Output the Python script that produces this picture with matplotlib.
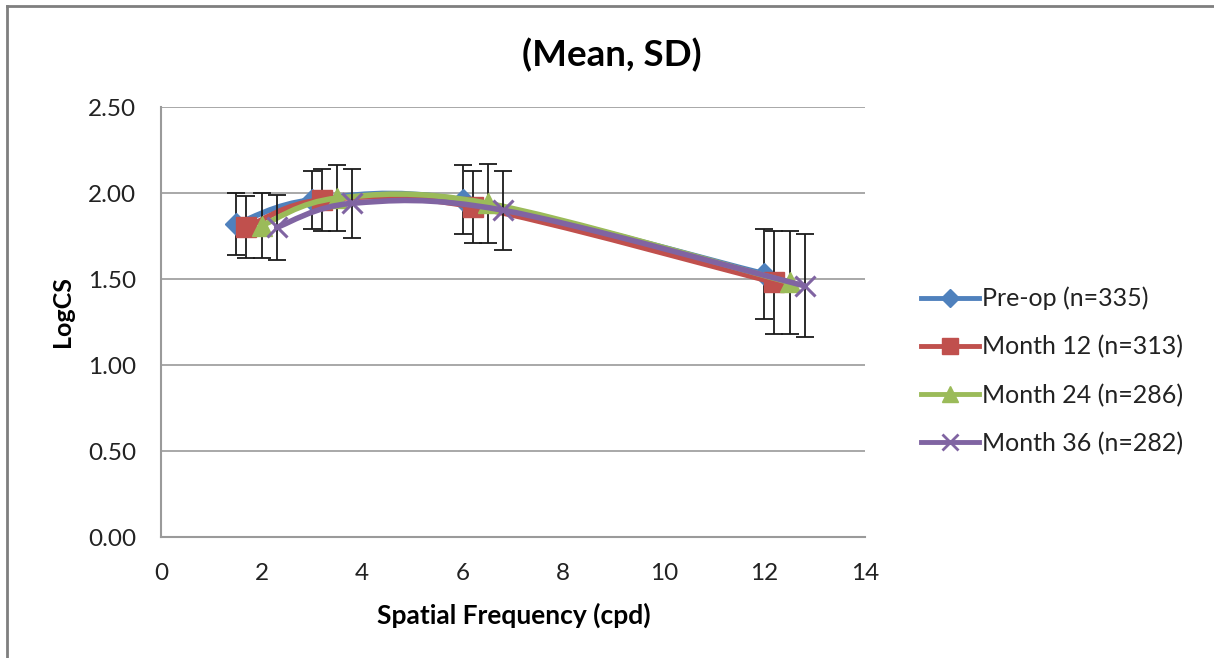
import matplotlib
matplotlib.use("Agg")
import matplotlib.pyplot as plt
import numpy as np
from matplotlib.path import Path
from matplotlib.patches import PathPatch
from matplotlib.lines import Line2D

plt.rcParams['font.family'] = ['Lato', 'DejaVu Sans']

# ---- data ----
series_names = ["Pre-op (n=335)", "Month 12 (n=313)", "Month 24 (n=286)", "Month 36 (n=282)"]
x_preop = [1.5, 3.0, 6.0, 12.0]
x_m12 = [1.7, 3.2, 6.2, 12.2]
x_m24 = [2.0, 3.5, 6.5, 12.5]
x_m36 = [2.3, 3.8, 6.8, 12.8]
mean_preop = [1.82, 1.96, 1.96, 1.53]
mean_m12 = [1.80, 1.96, 1.92, 1.48]
mean_m24 = [1.81, 1.97, 1.94, 1.48]
mean_m36 = [1.80, 1.94, 1.90, 1.46]
sd_preop = [0.18, 0.17, 0.20, 0.26]
sd_m12 = [0.18, 0.18, 0.21, 0.30]
sd_m24 = [0.19, 0.19, 0.23, 0.30]
sd_m36 = [0.19, 0.20, 0.23, 0.30]
x_ticks = [0, 2, 4, 6, 8, 10, 12, 14]
y_ticks = [0.0, 0.5, 1.0, 1.5, 2.0, 2.5]

xs = [x_preop, x_m12, x_m24, x_m36]
means = [mean_preop, mean_m12, mean_m24, mean_m36]
sds = [sd_preop, sd_m12, sd_m24, sd_m36]
colors = ["#4F81BD", "#C0504D", "#9BBB59", "#8064A2"]
markers = ["D", "s", "^", "x"]
msizes = [11, 14, 14, 14]

fig = plt.figure(figsize=(12.14, 6.58), dpi=100)
ax = fig.add_axes([161/1214, 1-537/658, 704/1214, 430/658])
ax.set_xlim(0, 14)
ax.set_ylim(0, 2.5)
ax.set_xticks(x_ticks)
ax.set_yticks(y_ticks)
ax.set_yticklabels([f"{v:.2f}" for v in y_ticks])
ax.tick_params(length=0, labelsize=17.5, colors="#222222")
ax.tick_params(axis='y', pad=18)
ax.tick_params(axis='x', pad=19)
ax.grid(axis='y', color="#9a9a9a", lw=1.2)
ax.set_axisbelow(True)
for s in ["top", "right"]:
    ax.spines[s].set_visible(False)
for s in ["left", "bottom"]:
    ax.spines[s].set_color("#9a9a9a")
    ax.spines[s].set_linewidth(1.5)


def smooth_path(x, y):
    pts = np.column_stack([x, y])
    n = len(pts)
    verts = [pts[0]]
    codes = [Path.MOVETO]
    for i in range(n - 1):
        p0 = pts[i - 1] if i > 0 else pts[i]
        p1 = pts[i]
        p2 = pts[i + 1]
        p3 = pts[i + 2] if i + 2 < n else pts[i + 1]
        c1 = p1 + (p2 - p0) / 6.0
        c2 = p2 - (p3 - p1) / 6.0
        verts += [c1, c2, p2]
        codes += [Path.CURVE4] * 3
    return Path(verts, codes)


handles = []
for k in range(4):
    x, y, e = xs[k], means[k], sds[k]
    ax.errorbar(x, y, yerr=e, fmt='none', ecolor="#1a1a1a", elinewidth=1.3,
                capsize=6.5, capthick=1.3, zorder=3 + k)
    patch = PathPatch(smooth_path(x, y), facecolor='none', edgecolor=colors[k],
                      lw=4, zorder=3 + k, capstyle='round')
    ax.add_patch(patch)
    ax.plot(x, y, linestyle='none', marker=markers[k], ms=msizes[k],
            color=colors[k], mec=colors[k], mew=2.2 if markers[k] == 'x' else 1,
            zorder=3.5 + k)
    handles.append(Line2D([0], [0], color=colors[k], lw=3.5, marker=markers[k],
                          ms=msizes[k] - 2, mew=2 if markers[k] == 'x' else 1))

ax.legend(handles, series_names, loc='center left', bbox_to_anchor=(921/1214, 1-371/658),
          bbox_transform=fig.transFigure, frameon=False, fontsize=18,
          handlelength=2.3, handletextpad=0.12, labelspacing=1.0, borderpad=0,
          borderaxespad=0, labelcolor="#222222")

fig.text(612/1214, 1-55/658, "(Mean, SD)", ha='center', va='center',
         fontsize=26.5, fontweight='bold', color="#000000")
fig.text(62/1214, 1-312/658, "LogCS", ha='center', va='center', rotation=90,
         fontsize=18, fontweight='bold', color="#000000")
fig.text(514/1214, 1-615/658, "Spatial Frequency (cpd)", ha='center', va='center',
         fontsize=19, fontweight='bold', color="#000000")

# chart-area frame (left and top edges)
fig.add_artist(Line2D([7/1214, 7/1214], [0, 1-6/658], transform=fig.transFigure,
                      color="#7f7f7f", lw=2))
fig.add_artist(Line2D([7/1214, 1], [1-6/658, 1-6/658], transform=fig.transFigure,
                      color="#7f7f7f", lw=2))

fig.savefig("out.png", dpi=100)
